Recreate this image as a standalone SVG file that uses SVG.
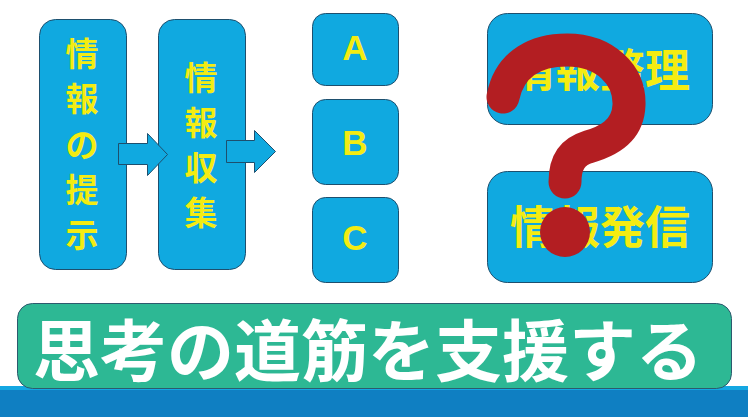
<svg xmlns="http://www.w3.org/2000/svg" width="748" height="417" viewBox="0 0 748 417">
<style>
.box{fill:#10a9e0;stroke:#1d4f6e;stroke-width:1}
.jp{font-family:"Noto Sans CJK JP","Noto Sans",sans-serif;fill:#f4ec12;font-weight:bold;text-anchor:middle;dominant-baseline:central}
.lat{font-family:"Liberation Sans",Arial,sans-serif;fill:#f4ec12;font-weight:bold;text-anchor:middle;dominant-baseline:central}
.arr{fill:#10a9e0;stroke:#1d4f6e;stroke-width:1}
</style>
<rect width="748" height="417" fill="#ffffff"/>
<g id="node-teiji">
<rect class="box" x="39.5" y="19.5" width="87" height="250" rx="16"/>
<text class="jp" font-size="33"><tspan x="82" y="52">情</tspan><tspan x="82" y="97">報</tspan><tspan x="82" y="143">の</tspan><tspan x="82" y="188">提</tspan><tspan x="82" y="233">示</tspan></text>
</g>
<g id="node-shushu">
<rect class="box" x="158.5" y="19.5" width="87" height="250" rx="16"/>
<text class="jp" font-size="33"><tspan x="201" y="76">情</tspan><tspan x="201" y="121">報</tspan><tspan x="201" y="166">収</tspan><tspan x="201" y="211">集</tspan></text>
</g>
<g id="node-a">
<rect class="box" x="312.5" y="13.5" width="86" height="72" rx="13"/>
<text class="lat" x="355" y="47" font-size="35">A</text>
</g>
<g id="node-b">
<rect class="box" x="312.5" y="99.5" width="86" height="85" rx="13"/>
<text class="lat" x="355" y="142" font-size="35">B</text>
</g>
<g id="node-c">
<rect class="box" x="312.5" y="197.5" width="86" height="85" rx="13"/>
<text class="lat" x="355" y="237" font-size="35">C</text>
</g>
<g id="node-seiri">
<rect class="box" x="487.5" y="13.5" width="225" height="111" rx="20"/>
<text class="jp" x="600" y="67" font-size="45">情報整理</text>
</g>
<g id="node-hasshin">
<rect class="box" x="487.5" y="171.5" width="225" height="111" rx="20"/>
<text class="jp" x="600" y="224" font-size="45">情報発信</text>
</g>
<g id="question" fill="none" stroke="#b31e22" stroke-linecap="round">
<path d="M503,97 C510,62 538,50 567,50 C605,50 630,75 629,105 C628,132 606,142 588,147 C572,152 565,163 565,182" stroke-width="33"/>
<circle cx="565" cy="232" r="25" fill="#b31e22" stroke="none"/>
</g>
<g id="connectors">
<path class="arr" d="M118.5,143.5 H147.5 V133.5 L167.5,154.5 L147.5,175.5 V164.5 H118.5 Z"/>
<path class="arr" d="M226.5,140.5 H254.5 V130.5 L275.5,151.5 L254.5,172.5 V162.5 H226.5 Z"/>
</g>
<g id="banner">
<rect x="0" y="386" width="748" height="31" fill="#0f7fc2"/>
<rect x="0" y="386" width="748" height="4" fill="#14a7e2"/>
<rect x="17.5" y="303.5" width="714" height="85" rx="15" fill="#2db894" stroke="#2d5a6e" stroke-width="1"/>
<text x="368" y="346" font-family="'Noto Sans CJK JP','Noto Sans',sans-serif" font-weight="bold" font-size="67" fill="#ffffff" text-anchor="middle" dominant-baseline="central">思考の道筋を支援する</text>
</g>
</svg>
